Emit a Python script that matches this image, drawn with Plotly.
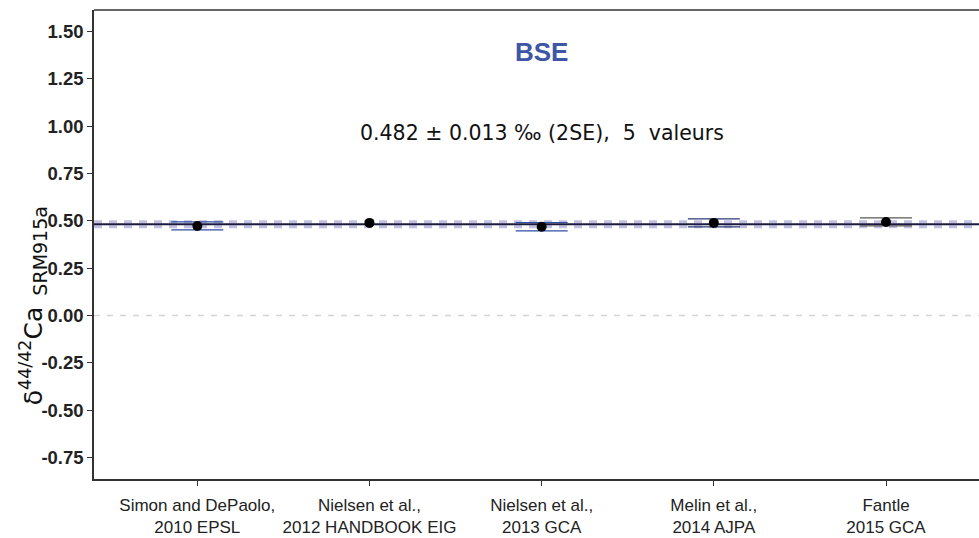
import plotly.graph_objects as go

# Published BSE δ44/42Ca values (‰, relative to SRM915a)
references = [
    "Simon and DePaolo,<br>2010 EPSL",
    "Nielsen et al.,<br>2012 HANDBOOK EIG",
    "Nielsen et al.,<br>2013 GCA",
    "Melin et al.,<br>2014 AJPA",
    "Fantle<br>2015 GCA",
]
delta_values = [0.473, 0.489, 0.469, 0.489, 0.494]
errors_2se = [0.021, 0.0, 0.022, 0.021, 0.021]
bar_colors = ["#2f4fa3", "#2f4fa3", "#2f4fa3", "#2c3a78", "#5a5a5a"]

mean_value = 0.482
mean_err = 0.013
n_values = 5

y_ticks = [-0.75, -0.50, -0.25, 0.00, 0.25, 0.50, 0.75, 1.00, 1.25, 1.50]

x_pos = list(range(len(references)))

fig = go.Figure()

# error bars, one trace per study so each can carry its own colour
for xi, yi, ei, ci in zip(x_pos, delta_values, errors_2se, bar_colors):
    fig.add_trace(go.Scatter(
        x=[xi], y=[yi], mode="markers",
        marker=dict(size=1, color="rgba(0,0,0,0)"),
        error_y=dict(type="data", array=[ei], visible=ei > 0,
                     color=ci, thickness=1.2, width=26),
        showlegend=False, hoverinfo="skip",
    ))

# study means
fig.add_trace(go.Scatter(
    x=x_pos, y=delta_values, mode="markers",
    marker=dict(size=10, color="black"),
    showlegend=False,
))

# zero reference line
fig.add_shape(type="line", xref="paper", x0=0, x1=1, y0=0, y1=0,
              line=dict(color="#d4d4d4", width=1.5, dash="6px,7px"), layer="below")
# 2SE envelope around the mean
for yv in (mean_value - mean_err, mean_value + mean_err):
    fig.add_shape(type="line", xref="paper", x0=0, x1=1, y0=yv, y1=yv,
                  line=dict(color="rgba(150,150,205,0.6)", width=3, dash="8px,7px"),
                  layer="below")
# weighted mean
fig.add_shape(type="line", xref="paper", x0=0, x1=1, y0=mean_value, y1=mean_value,
              line=dict(color="#1b1b40", width=2), layer="below")
# top frame line
fig.add_shape(type="line", xref="paper", yref="paper", x0=0, x1=1, y0=1, y1=1,
              line=dict(color="#333333", width=1.5))

fig.add_annotation(x=2, y=0.91, xref="x", yref="paper", text="<b>BSE</b>",
                   showarrow=False, yanchor="middle",
                   font=dict(size=26, color="#3d56a6",
                             family="Liberation Sans, Arial"))
fig.add_annotation(x=2, y=0.738, xref="x", yref="paper",
                   text=f"{mean_value:.3f} ± {mean_err:.3f} ‰ (2SE),  {n_values}  valeurs",
                   showarrow=False, yanchor="middle",
                   font=dict(size=20.5, color="#111111",
                             family="DejaVu Sans, sans-serif"))

# y-axis title
fig.add_annotation(x=-0.068, y=0.37, xref="paper", yref="paper",
                   text="δ<sup>44/42</sup>Ca<sub>  <span style='font-size:19px'>SRM915a</span></sub>",
                   textangle=-90, showarrow=False, xanchor="center", yanchor="middle",
                   font=dict(size=25, color="#111111", family="DejaVu Sans, sans-serif"))

fig.update_layout(
    width=979, height=538,
    margin=dict(l=94, r=0, t=10, b=59),
    plot_bgcolor="white", paper_bgcolor="white",
    xaxis=dict(
        range=[-0.6, 4.54], tickvals=x_pos, ticktext=references,
        showgrid=False, zeroline=False, showline=True, linecolor="#333333",
        linewidth=1.5, ticks="outside", ticklen=5, tickcolor="#333333",
        ticklabelstandoff=5,
        tickfont=dict(size=17, color="#222222",
                      family="Liberation Sans Narrow, Liberation Sans, Arial"),
    ),
    yaxis=dict(
        range=[-0.8625, 1.6125], tickvals=y_ticks,
        ticktext=[f"<b>{v:.2f}</b>" for v in y_ticks],
        showgrid=False, zeroline=False, showline=True, linecolor="#333333",
        linewidth=1.5, ticks="outside", ticklen=5, tickcolor="#333333",
        tickfont=dict(size=18.5, color="#222222", family="Liberation Sans, Arial"),
    ),
)

fig.write_html("out.html")
